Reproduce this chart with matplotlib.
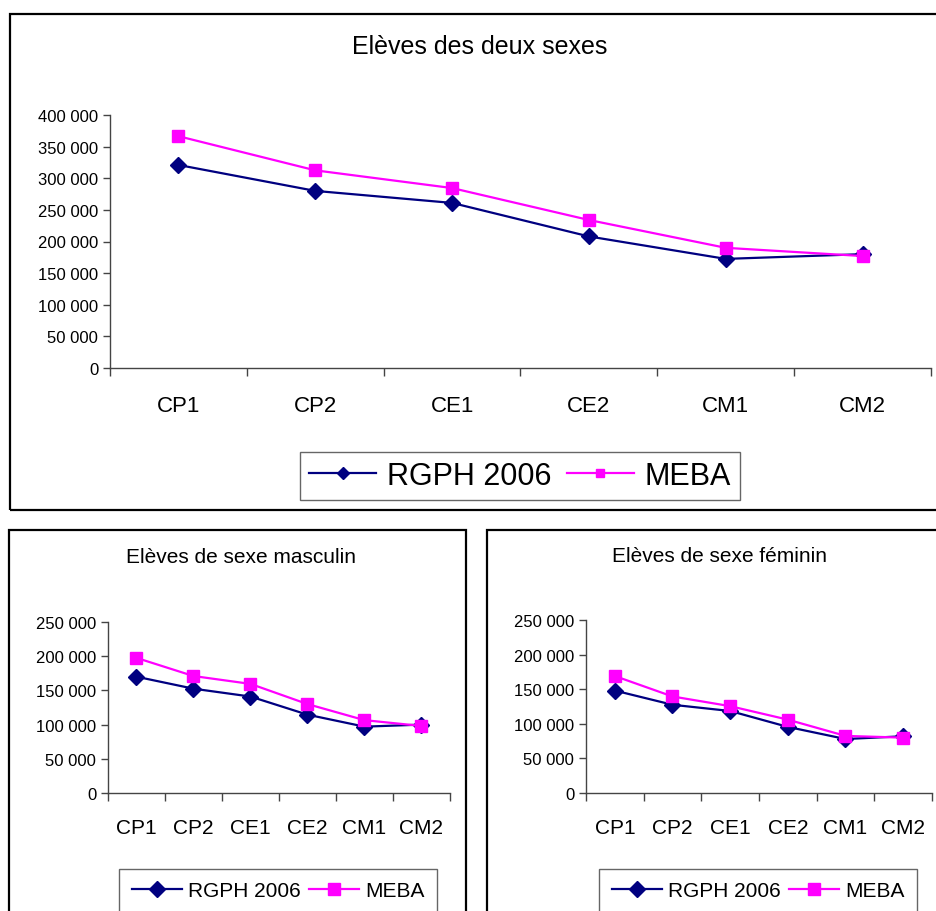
import matplotlib.pyplot as plt
from matplotlib.patches import Rectangle
from matplotlib.ticker import FuncFormatter, FixedLocator

plt.rcParams['font.family'] = ['Liberation Sans', 'DejaVu Sans']

# ── Données ──────────────────────────────────────────────────────────────────
niveaux = ['CP1', 'CP2', 'CE1', 'CE2', 'CM1', 'CM2']

rgph_total = [321000, 280000, 261000, 208000, 172500, 180000]
meba_total = [366500, 312500, 284500, 234000, 190000, 177000]

rgph_masc = [170000, 152500, 141000, 114500, 97000, 100000]
meba_masc = [197500, 171000, 159500, 130000, 106500, 98000]

rgph_fem = [148000, 127500, 118500, 95500, 78000, 82000]
meba_fem = [169000, 139500, 125500, 106000, 82500, 80000]

NAVY = '#000080'
MAGENTA = '#FF00FF'

fig = plt.figure(figsize=(9.37, 9.12), dpi=100)
W, H = 937, 912


def fx(px):
    return px / W


def fy(py):
    return 1 - py / H


def space_fmt(v, pos):
    return f'{v:,.0f}'.replace(',', ' ')


def panel(rect, rgph, meba, ymax, ystep, tick_fs, cat_fs, ms, lw):
    ax = fig.add_axes(rect)
    x = range(len(niveaux))
    ax.plot(x, rgph, color=NAVY, marker='D', ms=ms, lw=lw, label='RGPH 2006')
    ax.plot(x, meba, color=MAGENTA, marker='s', ms=ms, lw=lw, label='MEBA')
    ax.set_xlim(-0.5, len(niveaux) - 0.5)
    ax.set_ylim(0, ymax)
    ax.set_yticks(range(0, ymax + 1, ystep))
    ax.yaxis.set_major_formatter(FuncFormatter(space_fmt))
    # ticks entre les catégories, comme Excel
    ax.xaxis.set_major_locator(FixedLocator([i - 0.5 for i in range(len(niveaux) + 1)]))
    ax.xaxis.set_major_formatter(FuncFormatter(lambda v, p: ''))
    ax.set_xticks(list(x), minor=True)
    ax.set_xticklabels(niveaux, minor=True, fontsize=cat_fs)
    ax.tick_params(axis='x', which='minor', length=0, pad=cat_fs * 1.2)
    ax.tick_params(axis='x', which='major', direction='out', length=6, width=1, color='#444444')
    ax.tick_params(axis='y', direction='out', length=5, width=1, color='#444444', labelsize=tick_fs)
    for s in ('top', 'right'):
        ax.spines[s].set_visible(False)
    for s in ('left', 'bottom'):
        ax.spines[s].set_color('#444444')
        ax.spines[s].set_linewidth(1)
    ax.patch.set_alpha(0)
    return ax


# ── Cadres ───────────────────────────────────────────────────────────────────
for (x0, y0, x1, y1) in [(10, 15, 945, 511), (9, 531, 466, 930), (487, 531, 945, 930)]:
    fig.patches.append(Rectangle((fx(x0), fy(y1)), fx(x1 - x0), (y1 - y0) / H,
                                 transform=fig.transFigure, fill=False,
                                 edgecolor='black', lw=1.6, clip_on=False))

# ── 1. Deux sexes ────────────────────────────────────────────────────────────
ax1 = panel([fx(110), fy(369), fx(931 - 110), (369 - 116) / H],
            rgph_total, meba_total, 400000, 50000, 12, 16, 8, 1.6)
fig.text(fx(480), fy(47), 'Elèves des deux sexes', ha='center', va='center', fontsize=18)
leg1 = ax1.legend(loc='center', bbox_to_anchor=(fx(520), fy(477)),
                  bbox_transform=fig.transFigure, ncol=2, fontsize=22,
                  fancybox=False, edgecolor='#666666', framealpha=1,
                  handlelength=2.2, columnspacing=0.5, handletextpad=0.35,
                  borderpad=0.3, markerscale=0.8)
leg1.get_frame().set_linewidth(1)

# ── 2. Masculin ──────────────────────────────────────────────────────────────
ax2 = panel([fx(108), fy(794), fx(450 - 108), (794 - 623) / H],
            rgph_masc, meba_masc, 250000, 50000, 12, 15, 8, 1.6)
fig.text(fx(241), fy(558), 'Elèves de sexe masculin', ha='center', va='center', fontsize=15)
leg2 = ax2.legend(loc='center', bbox_to_anchor=(fx(278), fy(892)),
                  bbox_transform=fig.transFigure, ncol=2, fontsize=15,
                  fancybox=False, edgecolor='#666666', framealpha=1,
                  handlelength=2.4, columnspacing=0.4, handletextpad=0.3,
                  borderpad=0.6)
leg2.get_frame().set_linewidth(1)

# ── 3. Féminin ───────────────────────────────────────────────────────────────
ax3 = panel([fx(586), fy(794), fx(932 - 586), (794 - 621) / H],
            rgph_fem, meba_fem, 250000, 50000, 12, 15, 8, 1.6)
fig.text(fx(720), fy(557), 'Elèves de sexe féminin', ha='center', va='center', fontsize=15)
leg3 = ax3.legend(loc='center', bbox_to_anchor=(fx(758), fy(892)),
                  bbox_transform=fig.transFigure, ncol=2, fontsize=15,
                  fancybox=False, edgecolor='#666666', framealpha=1,
                  handlelength=2.4, columnspacing=0.4, handletextpad=0.3,
                  borderpad=0.6)
leg3.get_frame().set_linewidth(1)

fig.savefig('out.png', dpi=100, facecolor='white')
